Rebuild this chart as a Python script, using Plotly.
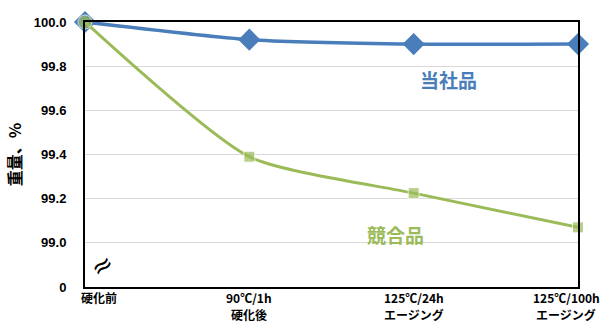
import plotly.graph_objects as go

categories = ["硬化前", "90℃/1h", "125℃/24h", "125℃/100h"]
categories_line2 = ["", "硬化後", "エージング", "エージング"]
ours = [100.0, 99.92, 99.90, 99.90]
competitor = [100.0, 99.39, 99.225, 99.07]
ytick_vals = [98.8, 99.0, 99.2, 99.4, 99.6, 99.8, 100.0]
ytick_text = ["0", "99.0", "99.2", "99.4", "99.6", "99.8", "100.0"]

blue = "#4A7EBB"
green = "#9BBB59"
xs = list(range(len(categories)))

fig = go.Figure()
fig.add_trace(go.Scatter(
    x=xs, y=ours, mode="lines+markers", name="当社品",
    line=dict(color=blue, width=3.5, shape="spline", smoothing=0.6),
    marker=dict(symbol="diamond", size=17, color=blue),
    cliponaxis=False,
))
fig.add_trace(go.Scatter(
    x=xs, y=competitor, mode="lines+markers", name="競合品",
    line=dict(color=green, width=3, shape="spline", smoothing=0.6),
    marker=dict(symbol=["circle", "square", "square", "square"], size=[14, 11, 11, 11], color=green),
    cliponaxis=False,
))

font_jp = "Noto Sans CJK JP, Arial, sans-serif"

annotations = [
    dict(text="<b>当社品</b>", xref="x", yref="y", x=2.21, y=99.74,
         showarrow=False, font=dict(size=19, family=font_jp, color=blue)),
    dict(text="<b>競合品</b>", xref="x", yref="y", x=1.89, y=99.04,
         showarrow=False, font=dict(size=19, family=font_jp, color=green)),
    dict(text="≈", xref="paper", yref="y", x=0, y=98.9, xshift=-3, textangle=-35,
         showarrow=False, font=dict(size=26, family="DejaVu Sans", color="black")),
]
xshifts = [14, 0, 0, -12]
for i in xs:
    annotations.append(dict(
        text="<b>%s</b>" % categories[i], xref="x", yref="paper", x=xs[i], y=0, yanchor="middle",
        yshift=-10, xshift=xshifts[i], showarrow=False, borderpad=0,
        font=dict(size=12, family=font_jp, color="black"),
    ))
    if categories_line2[i]:
        annotations.append(dict(
            text="<b>%s</b>" % categories_line2[i], xref="x", yref="paper", x=xs[i], y=0,
            yanchor="middle", yshift=-27.5, xshift=xshifts[i], showarrow=False, borderpad=0,
            font=dict(size=12, family=font_jp, color="black"),
        ))

fig.update_layout(
    width=603, height=326,
    margin=dict(l=85, r=25, t=22, b=39, autoexpand=False),
    plot_bgcolor="white", paper_bgcolor="white",
    showlegend=False,
    font=dict(family=font_jp, color="black"),
    xaxis=dict(
        range=[0, 3], showticklabels=False, automargin=False,
        showgrid=False, zeroline=False,
        showline=True, linecolor="black", linewidth=2, mirror=True, ticks="",
    ),
    yaxis=dict(
        range=[98.8, 100.0], tickvals=ytick_vals, ticktext=["<b>%s</b>" % t for t in ytick_text],
        showgrid=True, gridcolor="#D9D9D9", gridwidth=1, zeroline=False, automargin=False,
        showline=True, linecolor="black", linewidth=2, mirror=True,
        ticks="", ticklabelstandoff=14,
        tickfont=dict(size=13, family="Liberation Sans, Arial, sans-serif", color="black"),
        title=dict(text="<b>重量、%</b>", standoff=8,
                   font=dict(size=16, family=font_jp, color="black")),
    ),
    annotations=annotations,
)

fig.write_html("out.html")
